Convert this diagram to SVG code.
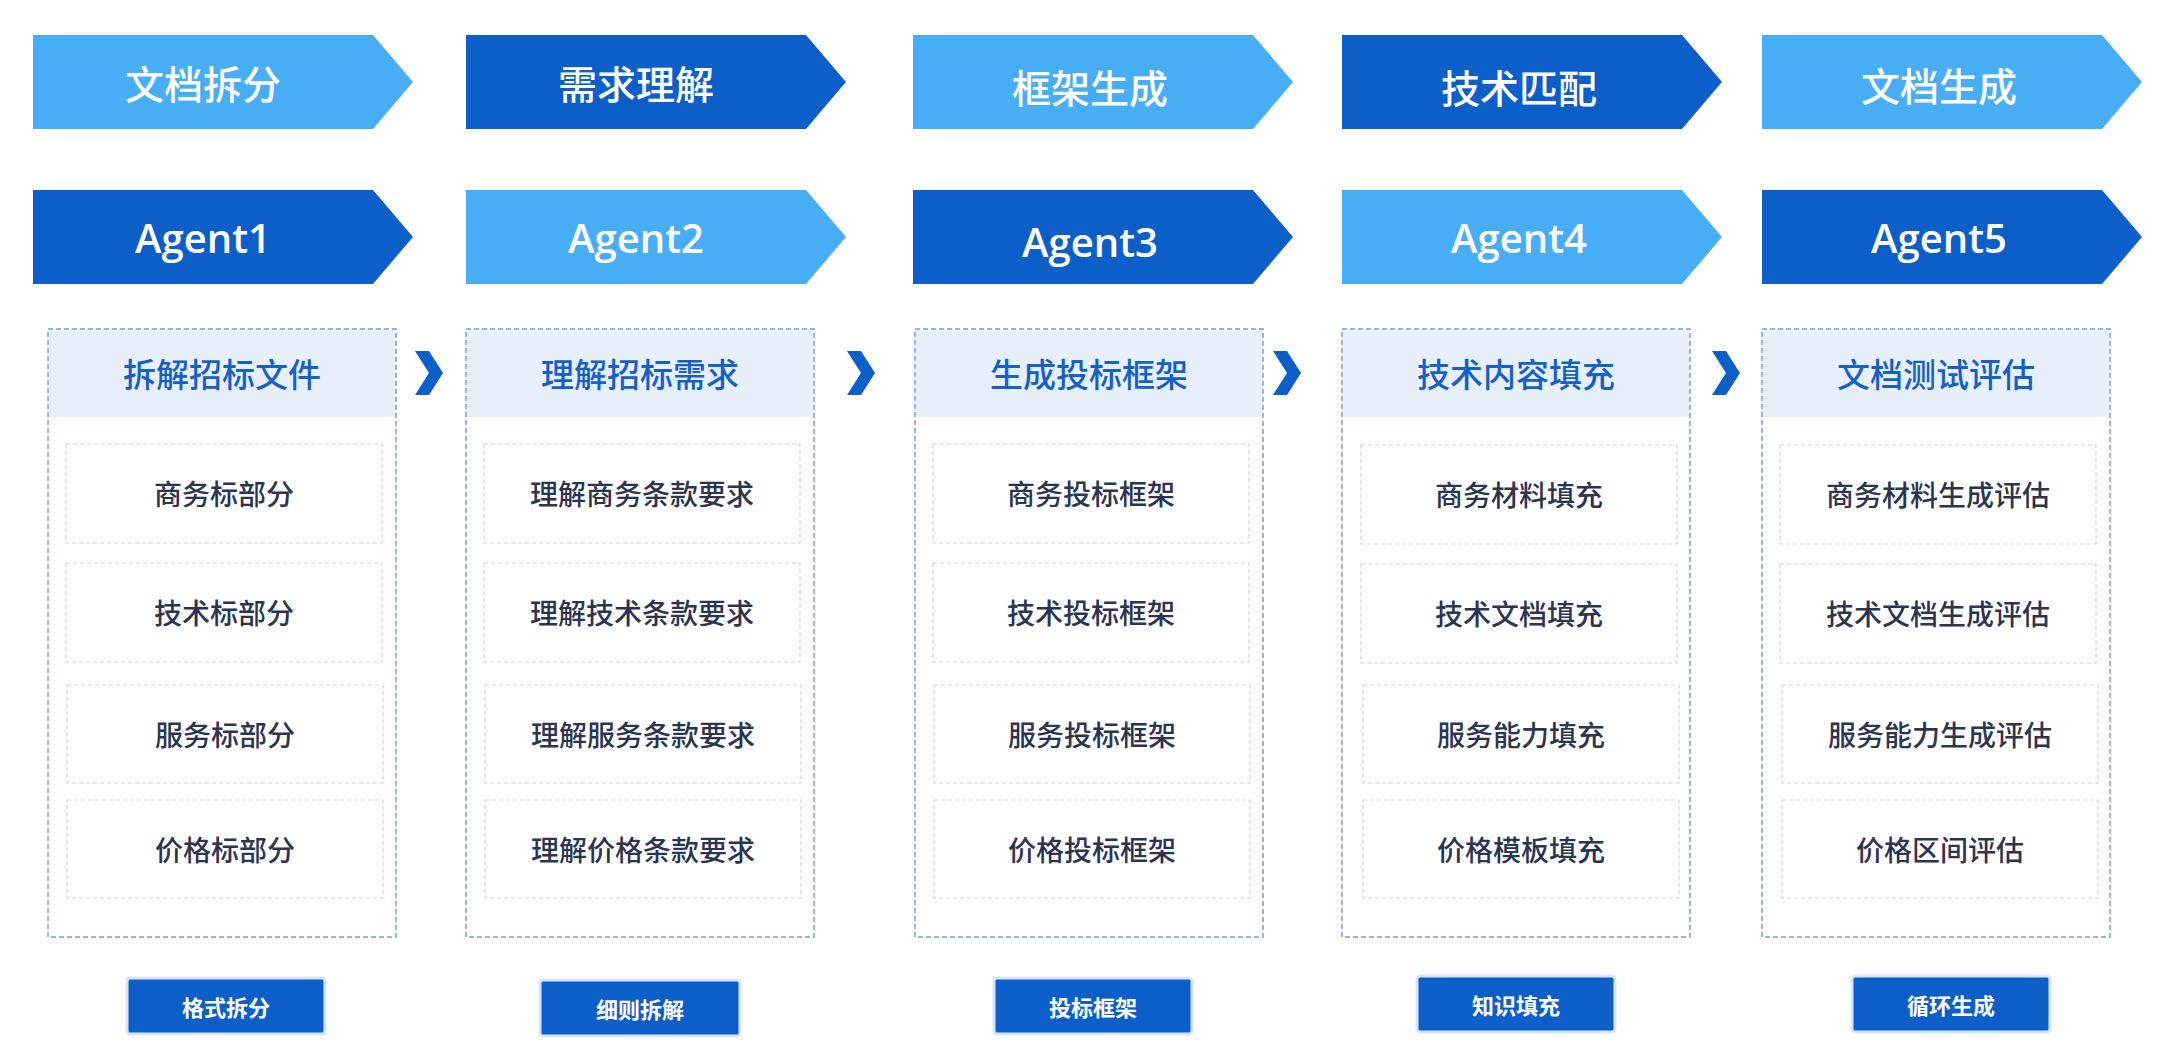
<svg xmlns="http://www.w3.org/2000/svg" width="2170" height="1064" viewBox="0 0 2170 1064">
<style>
.lt{fill:#47aef6}.dk{fill:#0c5ec8}
.bt{font-family:"Noto Sans CJK SC","Noto Sans",sans-serif;font-size:39px;fill:#fff;text-anchor:middle;dominant-baseline:central;font-weight:500}
.at{font-family:"Open Sans","Noto Sans",sans-serif;font-size:40px;fill:#fff;text-anchor:middle;dominant-baseline:central;font-weight:600}
.panel{fill:#fff;stroke:#6a9fe2;stroke-width:1.5;stroke-dasharray:5 3}
.hdr{fill:#e7effb}
.ht{font-family:"Noto Sans CJK SC",sans-serif;font-size:33px;fill:#1660c8;text-anchor:middle;dominant-baseline:central;font-weight:500}
.item{fill:#fff;stroke:#c9d3e0;stroke-width:1.2;stroke-dasharray:4 3}
.it{font-family:"Noto Sans CJK SC",sans-serif;font-size:28px;fill:#2b3552;text-anchor:middle;dominant-baseline:central;font-weight:500}
.btn{fill:#0c5ec8;stroke:#d8e6fb;stroke-width:3}
.btt{font-family:"Noto Sans CJK SC",sans-serif;font-size:22px;fill:#fff;text-anchor:middle;dominant-baseline:central;font-weight:bold}
.chev{fill:#0c5ec8}
</style>
<defs>
<path id="ban" d="M0 0H340L380 47L340 94H0Z"/>
<path id="chv" d="M0 0H14L28 22L14 44H0L14 22Z"/>
</defs>
<g id="connectors">
<use href="#chv" class="chev" x="415" y="351"/>
<use href="#chv" class="chev" x="847" y="351"/>
<use href="#chv" class="chev" x="1273" y="351"/>
<use href="#chv" class="chev" x="1712" y="351"/>
</g>
<g id="col1">
<use href="#ban" class="lt" x="33" y="35"/><text class="bt" x="203" y="82">文档拆分</text>
<use href="#ban" class="dk" x="33" y="190"/><text class="at" x="203" y="237">Agent1</text>
<rect class="panel" x="48" y="329" width="348" height="608"/><rect class="hdr" x="49" y="330" width="346" height="87"/>
<text class="ht" x="222" y="373">拆解招标文件</text>
<rect class="item" x="66" y="444" width="316" height="99"/><text class="it" x="224" y="493">商务标部分</text>
<rect class="item" x="66" y="563" width="316" height="99"/><text class="it" x="224" y="612">技术标部分</text>
<rect class="item" x="67" y="685" width="316" height="98"/><text class="it" x="225" y="734">服务标部分</text>
<rect class="item" x="67" y="800" width="316" height="98"/><text class="it" x="225" y="849">价格标部分</text>
<rect class="btn" x="127" y="978" width="198" height="56" rx="3"/><text class="btt" x="226" y="1006">格式拆分</text>
</g>
<g id="col2">
<use href="#ban" class="dk" x="466" y="35"/><text class="bt" x="636" y="82">需求理解</text>
<use href="#ban" class="lt" x="466" y="190"/><text class="at" x="636" y="237">Agent2</text>
<rect class="panel" x="466" y="329" width="348" height="608"/><rect class="hdr" x="467" y="330" width="346" height="87"/>
<text class="ht" x="640" y="373">理解招标需求</text>
<rect class="item" x="484" y="444" width="316" height="99"/><text class="it" x="642" y="493">理解商务条款要求</text>
<rect class="item" x="484" y="563" width="316" height="99"/><text class="it" x="642" y="612">理解技术条款要求</text>
<rect class="item" x="485" y="685" width="316" height="98"/><text class="it" x="643" y="734">理解服务条款要求</text>
<rect class="item" x="485" y="800" width="316" height="98"/><text class="it" x="643" y="849">理解价格条款要求</text>
<rect class="btn" x="540" y="980" width="200" height="56" rx="3"/><text class="btt" x="640" y="1008">细则拆解</text>
</g>
<g id="col3">
<use href="#ban" class="lt" x="913" y="35"/><text class="bt" x="1090" y="86">框架生成</text>
<use href="#ban" class="dk" x="913" y="190"/><text class="at" x="1090" y="241">Agent3</text>
<rect class="panel" x="915" y="329" width="348" height="608"/><rect class="hdr" x="916" y="330" width="346" height="87"/>
<text class="ht" x="1089" y="373">生成投标框架</text>
<rect class="item" x="933" y="444" width="316" height="99"/><text class="it" x="1091" y="493">商务投标框架</text>
<rect class="item" x="933" y="563" width="316" height="99"/><text class="it" x="1091" y="612">技术投标框架</text>
<rect class="item" x="934" y="685" width="316" height="98"/><text class="it" x="1092" y="734">服务投标框架</text>
<rect class="item" x="934" y="800" width="316" height="98"/><text class="it" x="1092" y="849">价格投标框架</text>
<rect class="btn" x="994" y="978" width="198" height="56" rx="3"/><text class="btt" x="1093" y="1006">投标框架</text>
</g>
<g id="col4">
<use href="#ban" class="dk" x="1342" y="35"/><text class="bt" x="1519" y="86">技术匹配</text>
<use href="#ban" class="lt" x="1342" y="190"/><text class="at" x="1519" y="237">Agent4</text>
<rect class="panel" x="1342" y="329" width="348" height="608"/><rect class="hdr" x="1343" y="330" width="346" height="87"/>
<text class="ht" x="1516" y="373">技术内容填充</text>
<rect class="item" x="1361" y="445" width="316" height="99"/><text class="it" x="1519" y="494">商务材料填充</text>
<rect class="item" x="1361" y="564" width="316" height="99"/><text class="it" x="1519" y="613">技术文档填充</text>
<rect class="item" x="1363" y="685" width="316" height="98"/><text class="it" x="1521" y="734">服务能力填充</text>
<rect class="item" x="1363" y="800" width="316" height="98"/><text class="it" x="1521" y="849">价格模板填充</text>
<rect class="btn" x="1417" y="976" width="198" height="56" rx="3"/><text class="btt" x="1516" y="1004">知识填充</text>
</g>
<g id="col5">
<use href="#ban" class="lt" x="1762" y="35"/><text class="bt" x="1939" y="84">文档生成</text>
<use href="#ban" class="dk" x="1762" y="190"/><text class="at" x="1939" y="237">Agent5</text>
<rect class="panel" x="1762" y="329" width="348" height="608"/><rect class="hdr" x="1763" y="330" width="346" height="87"/>
<text class="ht" x="1936" y="373">文档测试评估</text>
<rect class="item" x="1780" y="445" width="316" height="99"/><text class="it" x="1938" y="494">商务材料生成评估</text>
<rect class="item" x="1780" y="564" width="316" height="99"/><text class="it" x="1938" y="613">技术文档生成评估</text>
<rect class="item" x="1782" y="685" width="316" height="98"/><text class="it" x="1940" y="734">服务能力生成评估</text>
<rect class="item" x="1782" y="800" width="316" height="98"/><text class="it" x="1940" y="849">价格区间评估</text>
<rect class="btn" x="1852" y="976" width="198" height="56" rx="3"/><text class="btt" x="1951" y="1004">循环生成</text>
</g>
</svg>
